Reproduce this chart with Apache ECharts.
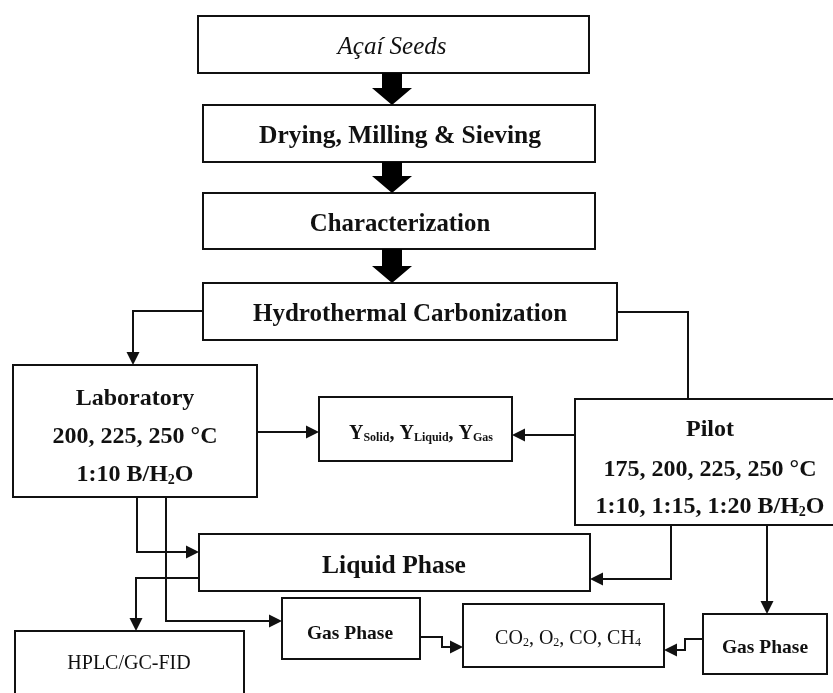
<!DOCTYPE html>
<html>
<head>
<meta charset="utf-8">
<script src="https://cdn.jsdelivr.net/npm/echarts@6/dist/echarts.min.js"></script>
<style>
  html, body { margin: 0; padding: 0; background: #fff; }
  #chart { width: 833px; height: 693px; }
</style>
</head>
<body>
<div id="chart"></div>
<script>
// box texts (rich markup: {s|..} = small subscript)
const boxTexts = [
  ['Açaí Seeds'],
  ['Drying, Milling & Sieving'],
  ['Characterization'],
  ['Hydrothermal Carbonization'],
  ['Laboratory', '200, 225, 250 °C', '1:10 B/H{s|2}O'],
  ['Y{s|Solid}, Y{s|Liquid}, Y{s|Gas}'],
  ['Pilot', '175, 200, 225, 250 °C', '1:10, 1:15, 1:20 B/H{s|2}O'],
  ['Liquid Phase'],
  ['Gas Phase'],
  ['HPLC/GC-FID'],
  ['CO{s|2}, O{s|2}, CO, CH{s|4}'],
  ['Gas Phase']
];

// layout: box rect [x0, y0, x1, y1], text centre x, text line ys
const boxRects = [
  [198, 16, 589, 73],
  [203, 105, 595, 162],
  [203, 193, 595, 249],
  [203, 283, 617, 340],
  [13, 365, 257, 497],
  [319, 397, 512, 461],
  [575, 399, 836, 525],
  [199, 534, 590, 591],
  [282, 598, 420, 659],
  [15, 631, 244, 710],
  [463, 604, 664, 667],
  [703, 614, 827, 674]
];
const textX = [392, 400, 400, 410, 135, 421, 710, 394, 350, 129, 568, 765];
const textY = [[45], [135], [223], [313], [397, 435, 473], [432], [428, 468, 505], [565], [632], [662], [637], [646]];
const textStyles = [
  { size: 25, weight: 'normal', style: 'italic', sub: 14 },
  { size: 25.5, weight: 'bold', style: 'normal', sub: 14 },
  { size: 24.8, weight: 'bold', style: 'normal', sub: 14 },
  { size: 25, weight: 'bold', style: 'normal', sub: 14 },
  { size: 24, weight: 'bold', style: 'normal', sub: 14 },
  { size: 20, weight: 'bold', style: 'normal', sub: 12 },
  { size: 24, weight: 'bold', style: 'normal', sub: 14 },
  { size: 25.5, weight: 'bold', style: 'normal', sub: 14 },
  { size: 19.5, weight: 'bold', style: 'normal', sub: 12 },
  { size: 20, weight: 'normal', style: 'normal', sub: 12 },
  { size: 20, weight: 'normal', style: 'normal', sub: 12 },
  { size: 19.5, weight: 'bold', style: 'normal', sub: 12 }
];

// thick block arrows: [x, yStart, yEnd]
const blockArrows = [
  [392, 73, 105],
  [392, 162, 193],
  [392, 249, 283]
];

// thin connectors; the ones listed in arrowPaths end with an arrow head
const arrowPaths = [
  [[203, 311], [133, 311], [133, 365]],
  [[257, 432], [319, 432]],
  [[575, 435], [512, 435]],
  [[137, 497], [137, 552], [199, 552]],
  [[166, 497], [166, 621], [282, 621]],
  [[199, 578], [136, 578], [136, 631]],
  [[671, 525], [671, 579], [590, 579]],
  [[767, 525], [767, 614]],
  [[420, 637], [442, 637], [442, 647], [463, 647]],
  [[703, 639], [685, 639], [685, 650], [664, 650]]
];
const plainPaths = [
  [[617, 312], [688, 312], [688, 399]]
];

const FONT = '"Liberation Serif", "DejaVu Serif", serif';
const HEAD = 13;

// split paths into straight segments; the last one of an arrow path carries the head,
// pulled back by half the head so its tip lands on the box edge
const bodySegs = [];
const headSegs = [];
arrowPaths.forEach(function (p) {
  for (let k = 0; k < p.length - 1; k++) {
    if (k === p.length - 2) {
      const a = p[k], b = p[k + 1];
      const len = Math.hypot(b[0] - a[0], b[1] - a[1]);
      const e = [b[0] - (b[0] - a[0]) / len * HEAD / 2, b[1] - (b[1] - a[1]) / len * HEAD / 2];
      headSegs.push({ coords: [a, e] });
    } else {
      bodySegs.push({ coords: [p[k], p[k + 1]] });
    }
  }
});
plainPaths.forEach(function (p) {
  for (let k = 0; k < p.length - 1; k++) bodySegs.push({ coords: [p[k], p[k + 1]] });
});

var myChart = echarts.init(document.getElementById('chart'));

function toRich(line) {
  return line.split(/(\{s\|[^}]*\})/).filter(t => t.length).map(t => t.startsWith('{s|') ? t : '{n|' + t + '}').join('');
}

const option = {
  animation: false,
  grid: { left: 0, right: 0, top: 0, bottom: 0 },
  xAxis: { type: 'value', min: 0, max: 833, show: false },
  yAxis: { type: 'value', min: 0, max: 693, inverse: true, show: false },
  series: [
    {
      type: 'custom',
      coordinateSystem: 'cartesian2d',
      data: boxRects.map((r, i) => [r[0], r[1], r[2], r[3], i]),
      clip: false,
      z: 1,
      renderItem: function (params, api) {
        const i = params.dataIndex;
        const p0 = api.coord([api.value(0), api.value(1)]);
        const p1 = api.coord([api.value(2), api.value(3)]);
        const ts = textStyles[i];
        const children = [{
          type: 'rect',
          shape: { x: p0[0], y: p0[1], width: p1[0] - p0[0], height: p1[1] - p0[1] },
          style: { fill: '#fff', stroke: '#111', lineWidth: 2 }
        }];
        boxTexts[i].forEach(function (line, k) {
          const c = api.coord([textX[i], textY[i][k]]);
          children.push({
            type: 'text',
            style: {
              text: toRich(line),
              x: c[0], y: c[1],
              align: 'center', verticalAlign: 'middle',
              fill: '#111',
              rich: {
                n: { fontFamily: FONT, fontSize: ts.size, fontWeight: ts.weight, fontStyle: ts.style, lineHeight: ts.size + 4, verticalAlign: 'bottom', fill: '#111' },
                s: { fontFamily: FONT, fontSize: ts.sub, fontWeight: ts.weight, fontStyle: ts.style, lineHeight: ts.size + 4, verticalAlign: 'bottom', fill: '#111' }
              }
            }
          });
        });
        return { type: 'group', children: children };
      },
      silent: true
    },
    {
      type: 'lines',
      coordinateSystem: 'cartesian2d',
      symbol: 'none',
      lineStyle: { color: '#111', width: 2, opacity: 1, cap: 'square' },
      data: bodySegs,
      silent: true,
      z: 2
    },
    {
      type: 'lines',
      coordinateSystem: 'cartesian2d',
      symbol: ['none', 'triangle'],
      symbolSize: HEAD,
      lineStyle: { color: '#111', width: 2, opacity: 1, cap: 'square' },
      data: headSegs,
      silent: true,
      z: 2
    },
    {
      type: 'custom',
      coordinateSystem: 'cartesian2d',
      data: blockArrows,
      clip: false,
      z: 3,
      renderItem: function (params, api) {
        const x = api.value(0), y0 = api.value(1), y1 = api.value(2);
        const yh = y1 - 17;
        const pts = [[x - 10, y0], [x + 10, y0], [x + 10, yh], [x + 20, yh], [x, y1], [x - 20, yh], [x - 10, yh]]
          .map(p => api.coord(p));
        return { type: 'polygon', shape: { points: pts }, style: { fill: '#000' } };
      },
      silent: true
    }
  ]
};

myChart.setOption(option);
</script>
</body>
</html>
